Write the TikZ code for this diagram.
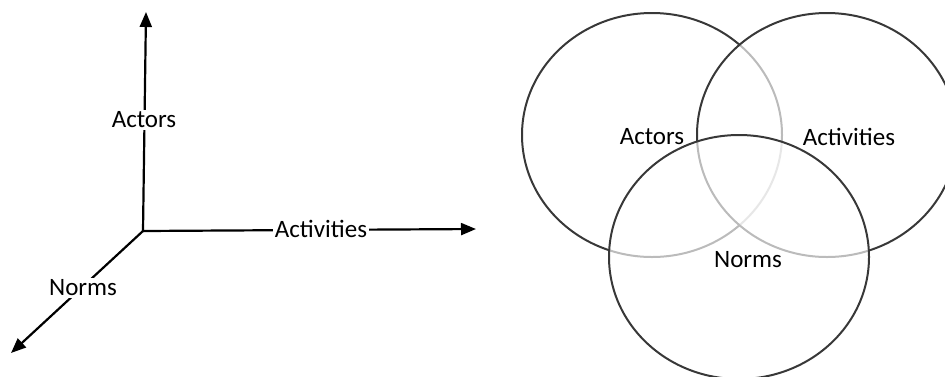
\documentclass[tikz,border=0pt]{standalone}
\usepackage{fontspec}
\setmainfont{Carlito}
\usetikzlibrary{arrows.meta}
\definecolor{ring}{HTML}{383838}
\begin{document}
\begin{tikzpicture}[x=1pt,y=-1pt,
  axis/.style={line width=2.2pt,-{Triangle[length=15pt,width=12pt]}},
  lbl/.style={font=\fontsize{25}{30}\selectfont,inner sep=1.5pt},
  axlbl/.style={lbl,fill=white},
  ringline/.style={draw=ring,line width=2pt},
  veil/.style={ringline,fill=white,fill opacity=0.66,draw opacity=1}]
\useasboundingbox (0,0) rectangle (945,376);
% left axes
\coordinate (o) at (143,231);
\coordinate (up) at (146,12);
\coordinate (rt) at (476,229);
\coordinate (dl) at (11,353);
\draw[axis] (o) -- (up);
\draw[axis] (o) -- (rt);
\draw[axis] (o) -- (dl);
\node[axlbl] (aact) at (144,120) {Actors};
\node[axlbl] (aactv) at (321,229) {Activities};
\node[axlbl] (anorm) at (83,288) {Norms};
% right circles
\path[ringline] (652,135) ellipse [x radius=130,y radius=122];
\path[veil] (827,135) ellipse [x radius=130,y radius=122];
\path[veil] (739,257) ellipse [x radius=130,y radius=122];
\node[lbl] (cact) at (652,137) {Actors};
\node[lbl] (cactv) at (849,137) {Activities};
\node[lbl] (cnorm) at (748,260) {Norms};
\end{tikzpicture}
\end{document}
